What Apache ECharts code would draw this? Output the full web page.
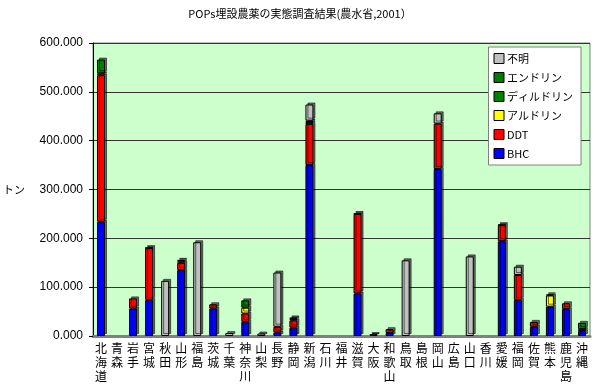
<!DOCTYPE html>
<html><head><meta charset="utf-8">
<script src="https://cdn.jsdelivr.net/npm/echarts@6/dist/echarts.min.js"></script>
<style>html,body{margin:0;padding:0;background:#fff}#c{width:600px;height:386px}</style>
</head><body><div id="c"></div>
<script>
const categories = ['北海道','青森','岩手','宮城','秋田','山形','福島','茨城','千葉','神奈川','山梨','長野','静岡','新潟','石川','福井','滋賀','大阪','和歌山','鳥取','島根','岡山','広島','山口','香川','愛媛','福岡','佐賀','熊本','鹿児島','沖縄'];
const bhc      = [234,0,56,74,0,135,0,56,0,29,0,7,17,350,0,0,87,2,6,0,0,342,0,0,0,194,74,19,60,55,10];
const ddt      = [300,0,21,106,0,15,0,9,0,17,0,12,15,84,0,0,163,0,8,0,0,93,0,0,0,33,51,10,0,12,4];
const aldrin   = [4,0,0,0,0,3,0,0,0,12,0,0,3,4,0,0,0,0,0,0,0,0,0,0,0,0,0,0,23,0,0];
const dieldrin = [28,0,0,1,0,3,0,0,0,15,0,0,0,3,0,0,1,1,0,0,0,0,0,0,0,1,0,0,2,0,13];
const endrin   = [0,0,0,0,0,0,0,0,0,0,0,0,0,0,0,0,0,0,0,0,0,0,0,0,0,0,0,0,0,0,0];
const unknown  = [0,0,0,0,113,0,192,0,6,0,5,111,3,33,0,0,0,0,0,155,0,21,0,163,0,0,17,0,0,0,0];
const yTicks = [0,100,200,300,400,500,600];

const seriesDefs = [
  {name:'BHC', data:bhc, color:'#0000FF'},
  {name:'DDT', data:ddt, color:'#FF0000'},
  {name:'アルドリン', data:aldrin, color:'#FFFF00'},
  {name:'ディルドリン', data:dieldrin, color:'#008000'},
  {name:'エンドリン', data:endrin, color:'#007A00'},
  {name:'不明', data:unknown, color:'#C0C0C0'}
];
const jp = '"Noto Sans CJK JP", "Noto Sans", sans-serif';
const chart = echarts.init(document.getElementById('c'));
chart.setOption({
  animation:false,
  title:{text:'POPs埋設農薬の実態調査結果(農水省,2001）', left:'center', top:3,
    textStyle:{fontSize:11, fontWeight:'normal', color:'#000', fontFamily:jp}},
  grid:{left:92, right:10, top:43, bottom:50, show:true, backgroundColor:'#CCFFCC', borderColor:'#808080', borderWidth:1},
  legend:{orient:'vertical', right:19, top:47, backgroundColor:'#fff', borderColor:'#808080', borderWidth:1,
    padding:[5,8,5,5], itemGap:6, itemWidth:10, itemHeight:10, icon:'rect',
    itemStyle:{borderColor:'#000', borderWidth:1, shadowColor:'transparent', shadowBlur:0, shadowOffsetX:0, shadowOffsetY:0},
    textStyle:{fontSize:11, lineHeight:13, color:'#000', fontFamily:jp, padding:[0,0,0,-2]},
    data:['不明','エンドリン','ディルドリン','アルドリン','DDT','BHC']},
  xAxis:{type:'category', data:categories,
    axisLine:{lineStyle:{color:'#808080', width:3}},
    axisTick:{show:false},
    axisLabel:{interval:0, margin:5, fontSize:12, lineHeight:14, color:'#000', fontFamily:jp,
      formatter:v=>v.split('').join('\n')}},
  yAxis:{type:'value', min:yTicks[0], max:yTicks[yTicks.length-1], interval:100,
    name:'トン', nameLocation:'middle', nameRotate:0, nameGap:68,
    nameTextStyle:{fontSize:11, color:'#000', fontFamily:jp},
    axisLine:{show:true, lineStyle:{color:'#000'}},
    axisTick:{show:true, length:4, lineStyle:{color:'#000'}},
    axisLabel:{fontSize:12, color:'#000', margin:10, fontFamily:'"Liberation Sans", Arial, sans-serif',
      formatter:v=>v.toFixed(3)},
    splitLine:{lineStyle:{color:'#333', width:1}}},
  series: seriesDefs.map(s=>({
    name:s.name, type:'bar', stack:'all', barWidth:8,
    itemStyle:{color:s.color, borderColor:'#000', borderWidth:1,
      shadowColor:'rgba(0,0,0,0.55)', shadowBlur:0, shadowOffsetX:2, shadowOffsetY:-2},
    data:s.data.map(v=>v===0?'-':v)
  }))
});
</script></body></html>
